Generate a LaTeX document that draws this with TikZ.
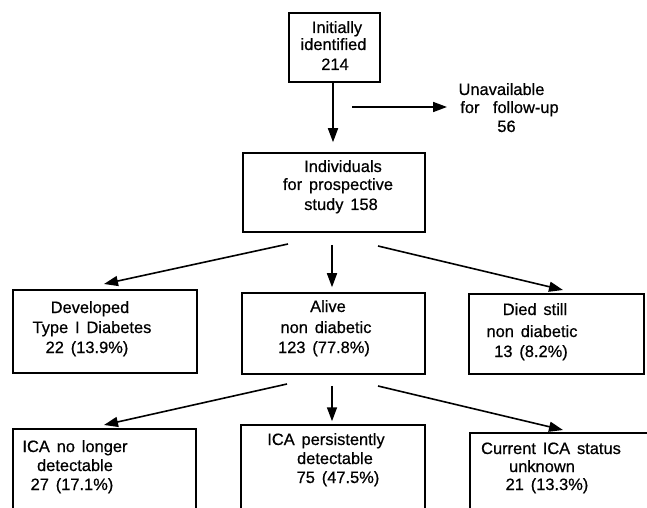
\documentclass[tikz,border=0pt]{standalone}
\usepackage{fontspec}
\setmainfont{Liberation Sans}[WordSpace=1.5,FakeBold=0.6]
\usetikzlibrary{arrows.meta}
\begin{document}
\begin{tikzpicture}[x=1bp,y=-1bp,
  box/.style={draw, line width=1.5bp, inner sep=0pt, rectangle},
  t/.style={anchor=base, inner sep=0pt, font=\fontsize{16.5}{19}\selectfont},
  arr/.style={line width=1.6bp, -{Triangle[length=14bp,width=10bp]}}]
\useasboundingbox (0,0) rectangle (647,508);
\clip (0,0) rectangle (647,508);
% boxes
\node[box, minimum width=91bp, minimum height=69bp] (top) at (334.5,47.5) {};
\node[box, minimum width=182bp, minimum height=79bp] (ind) at (334,192.5) {};
\node[box, minimum width=184bp, minimum height=83bp] (devel) at (105,331.5) {};
\node[box, minimum width=183bp, minimum height=81bp] (alive) at (333.5,333.5) {};
\node[box, minimum width=175bp, minimum height=80bp] (died) at (556.5,334) {};
\node[box, minimum width=183bp, minimum height=111bp] (bone) at (104.5,484.5) {};
\node[box, minimum width=184bp, minimum height=115bp] (btwo) at (333,482.5) {};
\node[box, minimum width=210bp, minimum height=107bp] (bthree) at (575,486.5) {};
% texts
\node[t] (top1) at (337,33) {Initially};
\node[t] (top2) at (333.5,50) {identified};
\node[t] (top3) at (335,70) {214};
\node[t] (un1) at (501.5,95) {Unavailable};
\node[t] (un2) at (509.5,113) {for\hspace{0.4em} follow-up};
\node[t] (un3) at (506.5,132) {56};
\node[t] (ind1) at (343,172) {Individuals};
\node[t] (ind2) at (338,190) {for prospective};
\node[t] (ind3) at (341,210) {study 158};
\node[t] (dev1) at (90,313) {Developed};
\node[t] (dev2) at (92,333) {Type I Diabetes};
\node[t] (dev3) at (87,353) {22 (13.9\%)};
\node[t] (al1) at (328,312) {Alive};
\node[t] (al2) at (326,333) {non diabetic};
\node[t] (al3) at (324,353) {123 (77.8\%)};
\node[t] (di1) at (535,315) {Died still};
\node[t] (di2) at (532,337) {non diabetic};
\node[t] (di3) at (531,357) {13 (8.2\%)};
\node[t] (bo1) at (75,452) {ICA no longer};
\node[t] (bo2) at (75,471) {detectable};
\node[t] (bo3) at (72,490) {27 (17.1\%)};
\node[t] (bt1) at (326,445) {ICA persistently};
\node[t] (bt2) at (335,464) {detectable};
\node[t] (bt3) at (338,483) {75 (47.5\%)};
\node[t] (bh1) at (551,454) {Current ICA status};
\node[t] (bh2) at (542,472) {unknown};
\node[t] (bh3) at (547,490) {21 (13.3\%)};
% connector end points
\coordinate (hs) at (352,107);
\coordinate (he) at (447,107);
\coordinate (s1) at (288,244);
\coordinate (e1) at (104,284);
\coordinate (s2) at (378,246);
\coordinate (e2) at (563,290);
\coordinate (s3) at (287,384);
\coordinate (e3) at (104,425);
\coordinate (s4) at (378,386);
\coordinate (e4) at (563,430);
% connectors
\draw[arr] (top.south -| 333,0) -- ([yshift=10bp]ind.north -| 333,0);
\draw[arr] (hs) -- (he);
\draw[arr] (s1) -- (e1);
\draw[arr] ([yshift=-12bp]ind.south -| 332,0) -- ([yshift=5bp]alive.north -| 332,0);
\draw[arr] (s2) -- (e2);
\draw[arr] (s3) -- (e3);
\draw[arr] ([yshift=-11bp]alive.south -| 332,0) -- ([yshift=3bp]btwo.north -| 332,0);
\draw[arr] (s4) -- (e4);
\end{tikzpicture}
\end{document}
